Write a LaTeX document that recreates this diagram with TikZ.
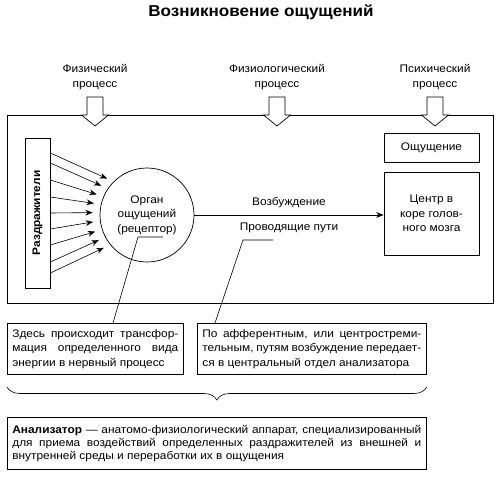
\documentclass[tikz,border=0pt]{standalone}
\usepackage{fontspec}
\setmainfont{Liberation Sans}[FakeStretch=1.08]
\usetikzlibrary{positioning,arrows.meta,calc,decorations.pathreplacing}
\tikzset{
  body/.style={font=\fontsize{11}{14.5}\selectfont},
  frame/.style={draw, line width=0.7pt},
  proc/.style={body, align=center},
  infobox/.style={frame, body, align=left, inner xsep=5pt, inner ysep=6pt, anchor=north west},
  stimarrow/.style={-{Stealth[length=2.6mm,width=2mm]}, line width=0.6pt, shorten >=7pt},
  mainarrow/.style={-{Stealth[length=2.6mm,width=2mm]}, line width=0.6pt},
  leader/.style={line width=0.6pt},
  downarrow/.pic={
    \draw[line width=0.7pt, fill=white] (-8,-18) -- (8,-18) -- (8,0) -- (13.5,0)
      -- (0,11) -- (-13.5,0) -- (-8,0) -- cycle;
  },
}
\newcommand{\jline}[2]{\makebox[#1][s]{#2}}

\begin{document}
\begin{tikzpicture}[x=1pt,y=-1pt]
  \useasboundingbox (0,0) rectangle (501,480);
  \node[font=\fontsize{15.8}{19}\bfseries\selectfont] (title) at (261,12) {Возникновение ощущений};

  % processes
  \node[proc] (phys) at (95,77) {Физический\\процесс};
  \node[proc] (physio) at (277,77) {Физиологический\\процесс};
  \node[proc] (psych) at (435,77) {Психический\\процесс};

  \draw[frame] (7,115) rectangle (493,303);
  \path (phys.south |- 0,115) pic {downarrow};
  \path (physio.south |- 0,115) pic {downarrow};
  \path (psych.south |- 0,115) pic {downarrow};

  % receptor part
  \node[frame, rotate=90, minimum width=150pt, minimum height=25pt, inner sep=0pt,
        font=\fontsize{11}{12}\bfseries\selectfont] (stim) at (37.5,213) {Раздражители};
  \node[frame, circle, minimum size=94pt, inner sep=0pt, proc] (organ) at (147,215)
    {Орган\\ощущений\\(рецептор)};
  \foreach \s/\a in {153/135,163/146,180/157,197/167,213/177,229/187,245/198,262/208,273/219}
    \draw[stimarrow] (stim.south |- 0,\s) -- (organ.\a);

  % brain
  \node[frame, minimum width=95pt, minimum height=29pt, body] (sens) at (431.5,147.5) {Ощущение};
  \node[frame, minimum width=95pt, minimum height=83pt, proc] (center) at (431.5,213.5)
    {Центр в\\коре голов-\\ного мозга};
  \draw[mainarrow] (organ.east) -- (organ.east -| center.west)
    node[pos=0.5, above=4pt, body] (exc) {Возбуждение}
    node[pos=0.5, below=4pt, body] (path) {Проводящие пути};

  % notes
  \node[infobox] (noteA) at (7,323) {%
    \jline{166pt}{Здесь происходит трансфор-}\\
    \jline{166pt}{мация определенного вида}\\
    энергии в нервный процесс};
  \node[infobox] (noteB) at (197,323) {%
    \jline{219pt}{По афферентным, или центростреми-}\\
    \jline{219pt}{тельным, путям возбуждение передает-}\\
    ся в центральный отдел анализатора};
  \coordinate (tipA) at (163,237);
  \coordinate (tipB) at (273,240);
  \draw[leader] (tipA) -- ++(-25,0) -- (noteA.north west -| 113,0);
  \draw[leader] (tipB) -- ++(-30,0) -- (noteB.north west -| 215,0);

  \draw[line width=0.6pt, decorate, decoration={brace, mirror, amplitude=13pt}]
    (noteA.south west |- 0,387) -- (noteB.south east |- 0,387);

  \node[infobox, inner ysep=8pt, font=\fontsize{11}{13}\selectfont] (anal) at (7,417) {%
    \jline{409pt}{\textbf{Анализатор} --- анатомо-физиологический аппарат, специализированный}\\
    \jline{409pt}{для приема воздействий определенных раздражителей из внешней и}\\
    внутренней среды и переработки их в ощущения};
\end{tikzpicture}
\end{document}
